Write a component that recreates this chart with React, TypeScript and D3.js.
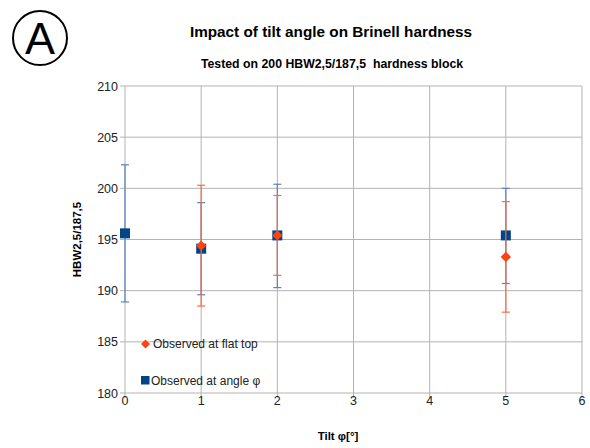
import React from "react";
import * as d3 from "d3";

// Tilt angles (degrees) and hardness readings with min/max ranges
const angleTilts = [0, 1, 2, 5];
const angleMeans = [195.6, 194.1, 195.4, 195.4];
const angleLows = [188.9, 189.6, 190.3, 190.7];
const angleHighs = [202.3, 198.6, 200.4, 200.0];

const flatTilts = [1, 2, 5];
const flatMeans = [194.4, 195.4, 193.3];
const flatLows = [188.5, 191.5, 187.9];
const flatHighs = [200.3, 199.3, 198.7];

const xTicks = [0, 1, 2, 3, 4, 5, 6];
const yTicks = [180, 185, 190, 195, 200, 205, 210];

const W = 590;
const H = 448;
const FONT = "'Liberation Sans', Arial, sans-serif";

const BLUE = "#004586";
const BLUE_ERR = "#5b82bf";
const ORANGE = "#ff420e";
const ORANGE_ERR = "#ff6a3d";

export default function App() {
  const x = d3.scaleLinear().domain([0, 6]).range([125, 582]);
  const y = d3.scaleLinear().domain([180, 210]).range([393, 86]);
  const [x0, x1] = x.range();
  const [yb, yt] = y.range();

  const errBars = (
    ts: number[],
    lo: number[],
    hi: number[],
    color: string,
    key: string
  ) =>
    ts.map((t, i) => (
      <g key={`${key}${i}`} stroke={color} strokeWidth={1.2}>
        <line x1={x(t)} x2={x(t)} y1={y(lo[i])} y2={y(hi[i])} />
        <line x1={x(t) - 4} x2={x(t) + 4} y1={y(lo[i])} y2={y(lo[i])} />
        <line x1={x(t) - 4} x2={x(t) + 4} y1={y(hi[i])} y2={y(hi[i])} />
      </g>
    ));

  const diamond = (cx: number, cy: number, r: number) =>
    `M${cx},${cy - r}L${cx + r},${cy}L${cx},${cy + r}L${cx - r},${cy}Z`;

  return (
    <svg
      width={W}
      height={H}
      style={{ position: "absolute", left: 0, top: 0, background: "#fff" }}
      fontFamily={FONT}
    >
      {/* badge */}
      <circle cx={40} cy={38} r={27} fill="none" stroke="#000" strokeWidth={2} />
      <text x={40} y={54} textAnchor="middle" fontSize={45} fontFamily={FONT}>
        A
      </text>

      <text x={331} y={37} textAnchor="middle" fontSize={15.3} fontWeight="bold" fill="#000">
        Impact of tilt angle on Brinell hardness
      </text>
      <text
        x={332}
        y={68}
        textAnchor="middle"
        fontSize={12.3}
        fontWeight="bold"
        fill="#000"
        style={{ whiteSpace: "pre" }}
      >
        {"Tested on 200 HBW2,5/187,5  hardness block"}
      </text>

      {/* grid */}
      {yTicks.map((v) => (
        <line key={`gy${v}`} x1={x0 - 5} x2={x1} y1={y(v)} y2={y(v)} stroke="#b3b3b3" strokeWidth={1} />
      ))}
      {xTicks.map((v) => (
        <line key={`gx${v}`} x1={x(v)} x2={x(v)} y1={yt} y2={yb + 5} stroke="#b3b3b3" strokeWidth={1} />
      ))}

      {/* tick labels */}
      {yTicks.map((v) => (
        <text key={`ty${v}`} x={x0 - 7} y={y(v) + 4.5} textAnchor="end" fontSize={12.5} fill="#222">
          {v}
        </text>
      ))}
      {xTicks.map((v) => (
        <text key={`tx${v}`} x={x(v)} y={yb + 12} textAnchor="middle" fontSize={12.5} fill="#222">
          {v}
        </text>
      ))}

      <text x={338} y={440} fontSize={11.5} fontWeight="bold" textAnchor="middle" fill="#000">
        Tilt φ[°]
      </text>
      <text
        transform={`translate(81,${(yt + yb) / 2}) rotate(-90)`}
        textAnchor="middle"
        fontSize={11.5}
        fontWeight="bold"
        fill="#000"
      >
        HBW2,5/187,5
      </text>

      {/* angle series */}
      {errBars(angleTilts, angleLows, angleHighs, BLUE_ERR, "ae")}
      {angleTilts.map((t, i) => (
        <rect key={`am${i}`} x={x(t) - 5} y={y(angleMeans[i]) - 5} width={10} height={10} fill={BLUE} />
      ))}

      {/* flat-top series */}
      {errBars(flatTilts, flatLows, flatHighs, ORANGE_ERR, "fe")}
      {flatTilts.map((t, i) => (
        <path key={`fm${i}`} d={diamond(x(t), y(flatMeans[i]), 5.2)} fill={ORANGE} />
      ))}

      {/* legend */}
      <path d={diamond(145.5, 344, 4.5)} fill={ORANGE} />
      <text x={153} y={348} fontSize={12} fill="#222">
        Observed at flat top
      </text>
      <rect x={141} y={376} width={8.5} height={8.5} fill={BLUE} />
      <text x={151} y={384.5} fontSize={12} fill="#222">
        Observed at angle φ
      </text>
    </svg>
  );
}
